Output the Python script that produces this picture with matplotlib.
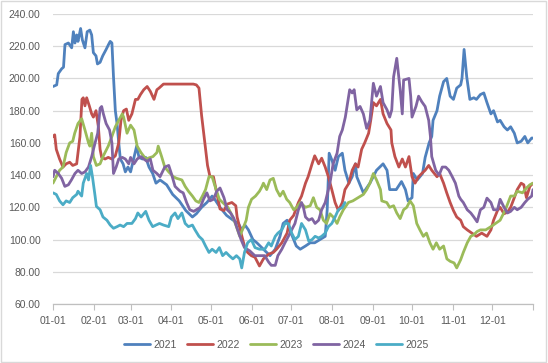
import matplotlib
matplotlib.use("Agg")
import matplotlib.pyplot as plt
from matplotlib.patches import Rectangle

# ---- data (day of year, value) ----
d2021 = [0, 2.8, 4, 6.6, 8, 9.1, 11.7, 14.2, 15.5, 16.7, 18, 19, 21, 22.3, 24.3, 26, 28, 29.4, 30.7, 32.7,
         33.8, 35.8, 37.8, 40.4, 42.2, 43.5, 44.8, 46, 47.4, 48.7, 50, 51.2, 53.3, 55, 57, 59, 61.6, 63.6,
         65.4, 68, 70.5, 73, 75.8, 78.3, 81.4, 86.4, 91, 96, 101, 106, 109, 113, 117, 121, 123, 127, 132,
         137, 141, 143.5, 146, 148.6, 152, 155, 160, 165, 169, 172.6, 175, 178, 180, 183, 185, 188, 192,
         195.6, 199, 203, 207, 208.5, 210, 212, 214.5, 217, 220, 222, 225, 227.5, 230, 231, 236, 241, 246,
         251, 254, 256, 261, 265, 268, 270, 273, 274, 277, 281, 283, 286, 288, 289, 292, 294, 297, 299.4,
         302, 304.5, 307, 310, 311, 312.6, 314.6, 317, 320, 322, 325, 327.6, 330, 333, 335, 338, 340, 343,
         345.5, 348, 350.8, 353, 356, 358.8, 361, 364, 365]
v2021 = [195, 196, 203, 206, 207, 221, 222, 219, 229, 222, 227, 223, 231, 224, 219, 229, 230, 227, 216, 214,
         209, 210, 214, 218, 221, 223, 222, 201, 180, 172, 160, 150, 147, 142, 145, 142, 151, 158,
         151, 150, 151, 145, 141, 135, 137, 134, 128, 124, 118, 114, 116, 120, 123, 127, 125, 120, 115,
         112, 110, 106, 109, 106, 100, 98, 94, 90, 94, 102, 110, 112, 106, 100, 96, 94, 96,
         98, 98, 100, 102, 118.5, 153.6, 149.5, 143, 151.5, 153.6, 143, 135, 139, 147, 139, 129, 135, 143,
         147, 143, 131, 131, 136, 131, 124, 126, 141, 137, 141, 151, 160, 164, 174, 180, 189, 198, 200,
         189, 187, 194, 196, 200, 218, 201, 187, 188, 187, 190, 191, 185, 178, 180, 173, 174, 170,
         168, 170, 166, 160, 161, 164, 160, 163, 163]

d2022 = [0, 1.3, 2.5, 5, 7.6, 10, 12.7, 15, 18, 20.5, 22, 23, 24.3, 25.6, 27.6, 29.4, 30.7, 32.7, 34.5, 35.8,
         37, 39.6, 42, 44.8, 47.4, 50, 51.7, 53.7, 55.8, 57.6, 60, 62.7, 64.5, 66.5, 69, 71.6, 74, 76.8, 79,
         80.6, 84, 106.7, 109, 111, 113, 115.5, 117.5, 119.4, 122, 125, 127, 130, 132.5, 136, 139, 140, 143,
         145.6, 148, 150.8, 153.6, 157, 160, 164, 167.5, 170, 174, 178, 180, 183, 186.6, 189, 192, 194, 197,
         199, 202, 204.3, 207, 209.4, 212, 214.5, 217, 220, 222, 225, 227.5, 230, 232, 234.7, 237, 240,
         241.6, 243.6, 246, 249, 251, 254, 257, 257.6, 260, 263, 265.6, 268, 270.7, 273, 275.3, 278, 280.4,
         283, 285.7, 288, 292, 294, 297, 299.4, 302, 304.5, 307, 310, 312, 315, 318.5, 322, 326, 330, 333,
         335, 338, 340, 343, 345.6, 348, 350.8, 353, 356, 358, 360, 362.6, 365]
v2022 = [164, 165, 156, 150, 145, 147, 148, 146, 147, 164, 187, 188, 183, 188, 183, 178, 176, 180, 170, 156,
         151, 150, 151, 150, 152, 160, 174, 180, 181, 174, 178, 187, 187, 190, 193, 195, 192, 187, 193,
         194, 196.5, 196.5, 196, 194, 177, 160, 146, 139, 139, 127, 119, 118, 122, 123, 121, 114, 104,
         96, 92, 90, 89, 83.6, 88, 91, 92, 94, 98, 104, 112, 115, 123, 127, 135, 139, 147,
         152, 147, 150.5, 145, 139, 131, 123, 118, 123, 131, 135, 143, 147, 145, 156, 160, 166,
         174, 185, 183, 187, 178, 172, 168, 160, 151.5, 145, 150, 145, 151.5, 139, 135, 139, 141,
         143, 146, 143, 139, 141, 135, 129, 123, 118, 114, 112, 108, 106, 104, 102, 104, 102, 106,
         112, 118, 120, 116, 117, 120, 126, 131, 135, 134, 126, 133, 135]

d2023 = [0, 2.5, 5, 7.6, 10, 12.7, 15, 16.5, 19, 21.8, 24.3, 27, 28, 29.4, 30.7, 33, 35.8, 38, 42, 44.8, 47.4,
         50, 52.7, 53.7, 56.3, 59, 61.6, 64, 66.9, 70.6, 74, 76, 79, 80, 82.6, 85, 88, 91.5, 94, 98, 100.5,
         103, 106, 108.6, 111, 113.6, 116, 118.6, 121, 124, 126.5, 129, 133, 136.8, 139.5, 142, 145, 146.9,
         148.6, 151, 154, 157, 159, 160, 162.5, 165, 167.5, 170, 172.6, 175, 177.7, 180, 183, 185.3, 188,
         192, 195.6, 198, 200.5, 203, 205.6, 208, 210.6, 213, 216, 218, 220.8, 224.6, 228, 232, 236, 238.5,
         241, 243.6, 246, 249, 250, 253.8, 256, 259, 261.4, 264, 266.6, 269, 271.5, 274, 276.6, 279, 281.6,
         284, 286.6, 289, 291.5, 294, 297, 299.5, 302, 305, 307, 310, 312, 315, 317.7, 320, 322.5, 325, 329,
         333, 336.5, 340, 344, 348, 350.8, 353, 357, 360, 362.6, 365]
v2023 = [135, 139, 143, 145, 154, 160, 161, 166, 172, 175, 168, 160, 158, 166, 151.5, 146, 147, 151.5, 158, 164, 170,
         174, 178, 176, 166, 171, 168, 158, 154, 150, 151, 151.5, 154, 158, 151.5, 145, 142, 139, 138, 137, 133,
         130, 127, 124, 123, 127, 131, 139, 139, 131, 125, 123, 120, 114, 108, 102, 108, 112,
         120, 125, 127, 130, 133, 135, 131, 137, 138, 131, 127, 130, 125, 123, 118.5, 120, 123,
         120, 121, 126, 120, 118.5, 112, 110, 116, 114, 110, 114, 118.5, 123, 124, 126, 128, 131,
         135, 141, 137, 131, 124, 123, 120, 121, 116.5, 113, 118.5, 120, 124, 121, 110, 106, 102,
         104, 98, 94, 98, 94, 96, 88, 86.5, 85.5, 82.4, 87.5, 92, 98, 102, 103, 105, 106, 106,
         108, 110, 112, 118.5, 127, 127, 130, 129, 132, 134, 135]

d2024 = [0, 1.3, 4, 6.6, 9, 11.7, 14, 16.7, 19, 21.8, 24.3, 27, 29.4, 32, 34, 35.8, 37, 38.3, 40.4, 43, 44.8,
         46, 48, 50, 52.7, 55, 57.6, 59, 61.6, 64, 66.9, 69, 71.6, 74, 76, 79, 81.4, 85, 88, 90, 92.8, 96.6,
         99, 101.6, 104, 107, 109, 112, 114.4, 117, 119.4, 122, 124.5, 127, 130, 132.5, 135, 137.6, 140, 143,
         145.6, 149.6, 153.5, 157, 161, 164, 166, 169, 171, 174, 176.4, 179, 181.5, 184, 186.6, 189, 190.4,
         192, 194.5, 197, 199.3, 202, 204.3, 207, 209.4, 211, 213, 216, 218, 220, 222.3, 223.6, 225.6, 227.5,
         229, 231, 233.5, 236, 238.5, 241, 243.6, 246, 249, 251, 254, 256, 257.6, 259, 261.4, 264, 265.6,
         266.6, 270.7, 272, 273, 276, 278, 280.4, 283, 285.7, 287, 288, 291, 293.6, 296, 298.6, 301, 303.6,
         306, 308.6, 310, 312, 315, 317.7, 320, 322.5, 325, 327.6, 330, 333, 335, 338, 340, 343, 345.6, 348,
         350.8, 353, 356, 358.8, 361, 364, 365]
v2024 = [139, 143, 141, 138, 133, 134, 137, 141, 143, 141, 142, 145, 151.5, 160, 166, 181.5, 182.6, 178, 172, 168, 160,
         141, 145, 150, 151, 150, 147, 151, 147, 150, 151.5, 150, 148.5, 150, 143, 141, 139, 145, 146, 141, 133, 130,
         129, 123, 118.5, 117.5, 118.5, 120, 125, 129, 124, 125, 130, 132, 126, 118.5, 116.5, 113, 107, 100,
         95, 93, 90, 90, 90, 86, 84, 84, 90, 94, 98, 102, 106, 110, 118.5, 123, 120,
         114, 112, 113, 110, 112, 118.5, 123, 131, 137, 147, 153.6, 164, 168, 176, 182.6, 193, 191,
         193, 180.5, 182.6, 178, 169, 174, 197, 189, 195, 185, 180.5, 176, 180.5, 201, 212.5, 193, 178,
         199, 200, 189, 176, 182.6, 189, 185.6, 182.6, 174, 164, 151.5, 143, 140, 145, 145, 143, 139,
         135, 127, 125, 123, 118.5, 116.5, 114, 111, 118.5, 120, 125.7, 123, 118.5, 118.5, 125, 120, 116.5, 117.5,
         120, 118.5, 120, 123, 125, 127, 131]

d2025 = [0, 2.5, 5, 7.6, 10, 12.7, 15, 18, 19, 21.8, 23, 25.6, 27, 28.6, 30, 32, 33, 35.8, 38, 41, 43.5, 46,
         48.7, 51, 53.7, 56.3, 60, 62.7, 64.5, 67, 70.5, 73, 75.8, 78.3, 81, 84, 88, 90, 92.8, 95, 98, 100.5,
         103, 106, 108, 111, 113.6, 116, 118.6, 121, 124, 126.5, 129, 131.6, 134, 136.8, 139.5, 142, 143.5,
         145.6, 148, 150.8, 153.6, 157, 161, 164, 166, 169, 171, 174, 176.4, 179, 181.5, 184, 186.6, 189,
         192, 194.5, 197, 199.3, 202, 204.3, 207, 209.4, 212, 214.5, 217, 220, 222]
v2025 = [129, 128, 124, 121.6, 124, 123, 126, 128, 130, 127, 135, 141, 137, 146, 139, 127, 120.6, 118.5, 114, 112, 109, 107,
         108, 109, 108, 110, 110, 113, 116.5, 114, 117.5, 112, 108, 109, 110, 109, 108, 114, 116.5, 113, 116.5, 110,
         108, 109, 106, 102, 100, 96, 92, 94, 92, 95, 90, 92, 90, 88, 90, 88, 82.4,
         92, 98, 100, 95, 94, 94, 98, 96, 102, 104, 106, 110, 110, 104, 100, 102, 110,
         106, 99, 100, 102, 101, 102, 104, 108, 110, 114, 118.5, 120, 123]

series_names = ["2021", "2022", "2023", "2024", "2025"]
series_days = [d2021, d2022, d2023, d2024, d2025]
series_vals = [v2021, v2022, v2023, v2024, v2025]
colors = ["#4F81BD", "#C0504D", "#9BBB59", "#8064A2", "#4BACC6"]

tick_days = [0, 31, 59, 90, 120, 151, 181, 212, 243, 273, 304, 334, 365]
tick_labels = ["01-01", "02-01", "03-01", "04-01", "05-01", "06-01", "07-01",
               "08-01", "09-01", "10-01", "11-01", "12-01", ""]
y_ticks = [60, 80, 100, 120, 140, 160, 180, 200, 220, 240]

plt.rcParams['font.family'] = ['Liberation Sans', 'DejaVu Sans']

fig = plt.figure(figsize=(5.48, 3.63), dpi=100)
ax = fig.add_axes([53/548, 1 - 304/363, 480/548, 290/363])

for name, dd, vv, c in zip(series_names, series_days, series_vals, colors):
    ax.plot(dd, vv, color=c, lw=2.0, label=name, solid_joinstyle='round', solid_capstyle='round')

ax.set_xlim(0, 365)
ax.set_ylim(60, 240)
ax.set_yticks(y_ticks)
ax.set_yticklabels([f"{t:.2f}" for t in y_ticks])
ax.set_xticks(tick_days)
ax.set_xticklabels(tick_labels)
ax.grid(axis='y', color='#D9D9D9', lw=0.9)
ax.set_axisbelow(True)
for s in ['top', 'right', 'left']:
    ax.spines[s].set_visible(False)
ax.spines['bottom'].set_color('#BFBFBF')
ax.spines['bottom'].set_linewidth(0.9)
ax.tick_params(axis='y', length=0, pad=9, labelsize=7.5, labelcolor='#595959')
ax.tick_params(axis='x', length=4, color='#BFBFBF', pad=5, labelsize=7.5, labelcolor='#595959')

leg = fig.legend(loc='center', bbox_to_anchor=(0.504, 0.05), ncol=5, frameon=False,
                 fontsize=7.5, handlelength=2.5, handletextpad=0.3, columnspacing=1.0)
for t in leg.get_texts():
    t.set_color('#595959')

fig.patches.append(Rectangle((0.002, 0.003), 0.995, 0.994, transform=fig.transFigure,
                             fill=False, edgecolor='#D9D9D9', lw=1.0))

fig.savefig("out.png", dpi=100)
